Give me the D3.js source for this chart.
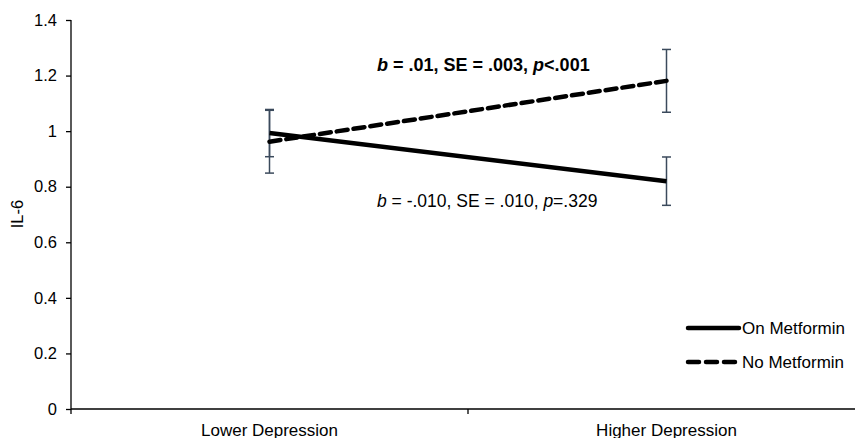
<!DOCTYPE html>
<html><head><meta charset="utf-8">
<script src="https://cdn.jsdelivr.net/npm/d3@7"></script>
<style>body{margin:0;background:#fff}svg{display:block;font-family:"Liberation Sans",Arial,sans-serif}</style>
</head><body><svg id="c" width="855" height="438"></svg>
<script>
const categories = ["Lower Depression", "Higher Depression"];
const seriesNames = ["On Metformin", "No Metformin"];
const onMetformin = [0.993, 0.820];
const onMetforminErr = [0.085, 0.087];
const noMetformin = [0.962, 1.181];
const noMetforminErr = [0.113, 0.113];
const yTicks = [0, 0.2, 0.4, 0.6, 0.8, 1, 1.2, 1.4];

const FONT = "Liberation Sans, Arial, sans-serif";
const svg = d3.select("#c");
const x = d3.scaleBand().domain(categories).range([71, 865]);
const y = d3.scaleLinear().domain([0, 1.4]).range([409, 20]);
const cx = c => x(c) + x.bandwidth() / 2;

// y axis
const ya = svg.append("g").attr("transform", "translate(71,0)")
  .call(d3.axisLeft(y).tickValues(yTicks).tickFormat(d => String(+d.toFixed(1))).tickSize(5).tickPadding(9));
ya.select(".domain").attr("stroke", "#000").attr("stroke-width", 1.3).attr("d", "M0,20V409");
ya.selectAll(".tick line").attr("stroke", "#000").attr("stroke-width", 1.3);
ya.selectAll("text").attr("font-size", 16.5).attr("fill", "#000").attr("font-family", FONT);

// x axis
const xa = svg.append("g").attr("transform", "translate(0,409)")
  .call(d3.axisBottom(x).tickSize(0));
xa.select(".domain").attr("stroke", "#000").attr("stroke-width", 1.5).attr("d", "M71,0H865");
xa.selectAll("text").attr("font-size", 17).attr("fill", "#000").attr("font-family", FONT)
  .attr("y", 26.5).attr("dy", 0);
// category boundary ticks
svg.append("g").selectAll("line").data([x(categories[0]), x(categories[1])]).join("line")
  .attr("x1", d => d).attr("x2", d => d).attr("y1", 409).attr("y2", 414)
  .attr("stroke", "#000").attr("stroke-width", 1.3);

// y title
svg.append("text").attr("transform", "translate(23,214) rotate(-90)")
  .attr("text-anchor", "middle").attr("font-size", 16.5).text("IL-6");

// error bars
const errColor = "#3b4a5c";
function errBars(vals, errs) {
  const g = svg.append("g").attr("stroke", errColor).attr("stroke-width", 1.5);
  categories.forEach((c, i) => {
    const X = cx(c), lo = y(vals[i] - errs[i]), hi = y(vals[i] + errs[i]);
    g.append("line").attr("x1", X).attr("x2", X).attr("y1", lo).attr("y2", hi);
    g.append("line").attr("x1", X - 4.5).attr("x2", X + 4.5).attr("y1", lo).attr("y2", lo);
    g.append("line").attr("x1", X - 4.5).attr("x2", X + 4.5).attr("y1", hi).attr("y2", hi);
  });
}
errBars(onMetformin, onMetforminErr);
errBars(noMetformin, noMetforminErr);

const line = d3.line().x((d, i) => cx(categories[i])).y(d => y(d));
svg.append("path").datum(onMetformin).attr("d", line)
  .attr("fill", "none").attr("stroke", "#000").attr("stroke-width", 4.5);
svg.append("path").datum(noMetformin).attr("d", line)
  .attr("fill", "none").attr("stroke", "#000").attr("stroke-width", 4.5)
  .attr("stroke-dasharray", "11,6").attr("stroke-linecap", "round");

// annotations
const a1 = svg.append("text").attr("x", 377).attr("y", 71).attr("font-size", 18).attr("font-weight", "bold");
a1.append("tspan").attr("font-style", "italic").text("b");
a1.append("tspan").text(" = .01, SE = .003, ");
a1.append("tspan").attr("font-style", "italic").text("p");
a1.append("tspan").text("<.001");

const a2 = svg.append("text").attr("x", 377).attr("y", 207).attr("font-size", 17.5);
a2.append("tspan").attr("font-style", "italic").text("b");
a2.append("tspan").text(" = -.010, SE = .010, ");
a2.append("tspan").attr("font-style", "italic").text("p");
a2.append("tspan").text("=.329");

// legend
const leg = svg.append("g");
seriesNames.forEach((n, i) => {
  const yy = 328 + i * 34;
  leg.append("line").attr("x1", 688).attr("x2", 739).attr("y1", yy).attr("y2", yy)
    .attr("stroke", "#000").attr("stroke-width", 4.5).attr("stroke-linecap", "round")
    .attr("stroke-dasharray", i === 1 ? "11,7" : null);
  leg.append("text").attr("x", 742).attr("y", yy + 6).attr("font-size", 17).text(n);
});
</script></body></html>
